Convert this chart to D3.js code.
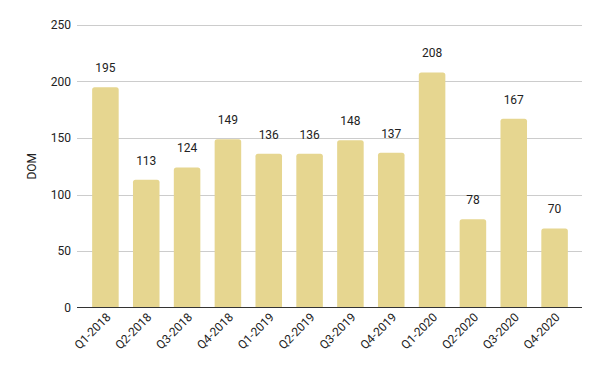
<!DOCTYPE html>
<html>
<head>
<meta charset="utf-8">
<script src="https://cdn.jsdelivr.net/npm/d3@7"></script>
<style>
  body { margin: 0; background: #fff; }
  text { font-family: Roboto, "Noto Sans", sans-serif; }
</style>
</head>
<body>
<div id="chart"></div>
<script>
// Data
const quarters = ["Q1-2018", "Q2-2018", "Q3-2018", "Q4-2018", "Q1-2019", "Q2-2019",
                  "Q3-2019", "Q4-2019", "Q1-2020", "Q2-2020", "Q3-2020", "Q4-2020"];
const domValues = [195, 113, 124, 149, 136, 136, 148, 137, 208, 78, 167, 70];
const yTicks = [0, 50, 100, 150, 200, 250];

const W = 600, H = 371;
const svg = d3.select("#chart").append("svg")
    .attr("width", W).attr("height", H);

const x = d3.scaleBand()
    .domain(quarters)
    .range([85, 575])
    .paddingInner(0.35)
    .paddingOuter(0.175);

const y = d3.scaleLinear()
    .domain([0, 250])
    .range([307.5, 25]);

// gridlines
svg.append("g")
    .selectAll("line")
    .data(yTicks.filter(d => d > 0))
    .enter().append("line")
    .attr("x1", 77).attr("x2", 582)
    .attr("y1", d => Math.round(y(d)) + 0.5)
    .attr("y2", d => Math.round(y(d)) + 0.5)
    .attr("stroke", "#cccccc");

// y tick labels
svg.append("g")
    .selectAll("text")
    .data(yTicks)
    .enter().append("text")
    .attr("x", 71)
    .attr("y", d => y(d))
    .attr("dy", "0.35em")
    .attr("text-anchor", "end")
    .attr("font-size", 12)
    .attr("fill", "#222")
    .text(d => d);

// bars with rounded top corners
const r = 2.5;
svg.append("g")
    .selectAll("path")
    .data(domValues)
    .enter().append("path")
    .attr("fill", "#e6d690")
    .attr("d", (d, i) => {
        const x0 = x(quarters[i]), x1 = x0 + x.bandwidth();
        const yt = y(d), yb = y(0);
        return `M${x0},${yb}V${yt + r}Q${x0},${yt} ${x0 + r},${yt}H${x1 - r}Q${x1},${yt} ${x1},${yt + r}V${yb}Z`;
    });

// baseline
svg.append("line")
    .attr("x1", 77).attr("x2", 582)
    .attr("y1", y(0)).attr("y2", y(0))
    .attr("stroke", "#333")
    .attr("stroke-width", 1);

// value labels
svg.append("g")
    .selectAll("text")
    .data(domValues)
    .enter().append("text")
    .attr("x", (d, i) => x(quarters[i]) + x.bandwidth() / 2)
    .attr("y", d => y(d) - 15)
    .attr("text-anchor", "middle")
    .attr("font-size", 12)
    .attr("fill", "#222")
    .text(d => d);

// x labels rotated
svg.append("g")
    .selectAll("text")
    .data(quarters)
    .enter().append("text")
    .attr("transform", d => `translate(${x(d) + x.bandwidth() / 2 + 6},${318}) rotate(-45)`)
    .attr("text-anchor", "end")
    .attr("font-size", 12)
    .attr("fill", "#222")
    .text(d => d);

// y axis title
svg.append("text")
    .attr("transform", `translate(36,${y(125)}) rotate(-90)`)
    .attr("text-anchor", "middle")
    .attr("font-size", 12)
    .attr("fill", "#222")
    .text("DOM");
</script>
</body>
</html>
